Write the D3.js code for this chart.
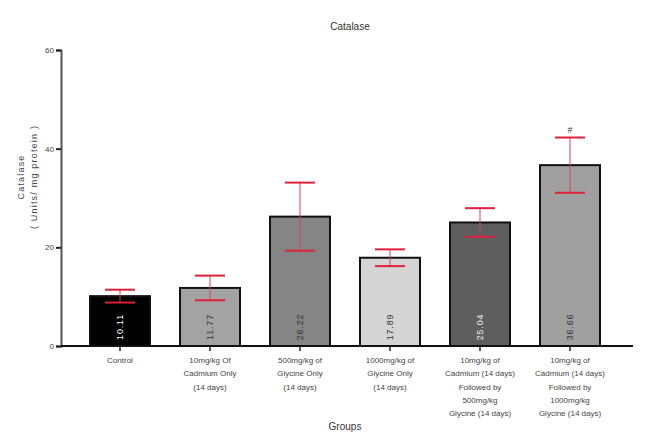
<!DOCTYPE html>
<html><head><meta charset="utf-8">
<script src="https://cdn.jsdelivr.net/npm/d3@7"></script>
<style>body{margin:0;background:#fff}svg{display:block}text{font-family:"Liberation Sans",Arial,sans-serif}</style>
</head><body>
<svg id="c" width="654" height="433"></svg>
<script>
const categories = [
  ["Control"],
  ["10mg/kg Of","Cadmium Only","(14 days)"],
  ["500mg/kg of","Glycine Only","(14 days)"],
  ["1000mg/kg of","Glycine Only","(14 days)"],
  ["10mg/kg of","Cadmium (14 days)","Followed by","500mg/kg","Glycine (14 days)"],
  ["10mg/kg of","Cadmium (14 days)","Followed by","1000mg/kg","Glycine (14 days)"]
];
const values = [10.11, 11.77, 26.22, 17.89, 25.04, 36.66];
const errors = [1.3, 2.5, 6.9, 1.7, 2.9, 5.6];
const valueLabels = ["10.11","11.77","26.22","17.89","25.04","36.66"];
const marks = ["","","","","","#"];
const fills = ["#000000","#a3a3a3","#858585","#d4d4d4","#5e5e5e","#a0a0a0"];
const labelColors = ["#ffffff","#333333","#333333","#333333","#eeeeee","#333333"];
const yTicks = [0, 20, 40, 60];

const svg = d3.select("#c");
const y = d3.scaleLinear().domain([0, 60]).range([346, 50]);
const x = d3.scaleBand().domain(d3.range(categories.length)).range([75, 615])
  .paddingInner(1/3).paddingOuter(1/6);

// title
svg.append("text").attr("x", 350).attr("y", 30).attr("text-anchor","middle")
  .attr("font-size", 10).attr("fill","#333").text("Catalase");

// y axis
const ya = svg.append("g").attr("transform","translate(61,0)")
  .call(d3.axisLeft(y).tickValues(yTicks).tickSize(5).tickPadding(2));
ya.select(".domain").attr("stroke","#555").attr("stroke-width",2);
ya.selectAll(".tick line").attr("stroke","#222").attr("stroke-width",2);
ya.selectAll(".tick text").attr("font-size",8).attr("fill","#444");

// y label
const yl = svg.append("text").attr("transform","translate(0,177) rotate(-90)")
  .attr("text-anchor","middle").attr("font-size",9).attr("fill","#444").attr("letter-spacing","1.2px");
yl.append("tspan").attr("x",0).attr("y",24).text("Catalase");
yl.append("tspan").attr("x",0).attr("y",37).text("( Units/ mg protein )");

// bars
const g = svg.append("g");
g.selectAll("rect").data(values).join("rect")
  .attr("x",(d,i)=>x(i)).attr("width",x.bandwidth())
  .attr("y",d=>y(d)).attr("height",d=>y(0)-y(d))
  .attr("fill",(d,i)=>fills[i]).attr("stroke","#111").attr("stroke-width",2);

// error bars
const capW = 30;
values.forEach((v,i)=>{
  const cx = x(i)+x.bandwidth()/2;
  g.append("line").attr("x1",cx).attr("x2",cx).attr("y1",y(v+errors[i])).attr("y2",y(v-errors[i]))
    .attr("stroke","#d94050").attr("stroke-width",1);
  [v+errors[i], v-errors[i]].forEach(e=>{
    g.append("line").attr("x1",cx-capW/2).attr("x2",cx+capW/2).attr("y1",y(e)).attr("y2",y(e))
      .attr("stroke","#e0203a").attr("stroke-width",2);
  });
  if (marks[i]) g.append("text").attr("x",cx).attr("y",y(v+errors[i])-5).attr("text-anchor","middle")
    .attr("font-size",9).attr("fill","#444").text(marks[i]);
  g.append("text").attr("transform",`translate(${cx+3},327) rotate(-90)`).attr("text-anchor","middle")
    .attr("font-size",9).attr("letter-spacing","0.8px").attr("fill",labelColors[i]).text(valueLabels[i]);
});

// x axis
const xa = svg.append("g").attr("transform","translate(0,346)")
  .call(d3.axisBottom(x).tickSize(5).tickFormat(""));
xa.select(".domain").attr("d","M61,0H633").attr("stroke","#111").attr("stroke-width",2);
xa.selectAll(".tick line").attr("stroke","#222").attr("stroke-width",1.5);

categories.forEach((lines,i)=>{
  const cx = x(i)+x.bandwidth()/2;
  const t = svg.append("text").attr("text-anchor","middle").attr("font-size",8).attr("fill","#444");
  lines.forEach((l,j)=>t.append("tspan").attr("x",cx).attr("y",363+j*13.3).text(l));
});

svg.append("text").attr("x",345).attr("y",430).attr("text-anchor","middle")
  .attr("font-size",10).attr("fill","#333").text("Groups");
</script>
</body></html>
